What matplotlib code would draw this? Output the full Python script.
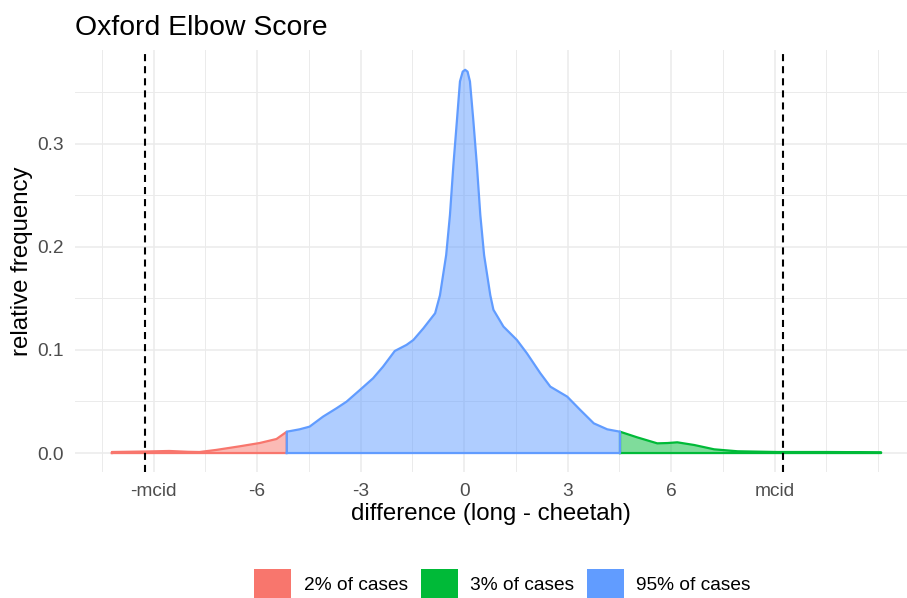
"""
Oxford Elbow Score
Density of the difference (long - cheetah), split into 2% / 95% / 3% regions
"""

import matplotlib
matplotlib.use('Agg')
import matplotlib.pyplot as plt
from matplotlib.patches import Patch

plt.rcParams['font.family'] = ['Liberation Sans', 'DejaVu Sans']

# density, in three pieces that share their cut points
x_red = [-10.21, -9.22, -8.55, -8.0, -7.67, -7.19, -6.51, -5.93, -5.44, -5.14]
y_red = [0.001, 0.0015, 0.002, 0.0012, 0.001, 0.003, 0.0065, 0.0097, 0.0136, 0.0207]

x_blue = [-5.14, -4.77, -4.48, -4.09, -3.70, -3.41, -3.02, -2.64, -2.35, -2.01,
          -1.67, -1.47, -1.18, -0.84, -0.70, -0.52, -0.41, -0.31, -0.21, -0.12,
          -0.04, 0.03, 0.10, 0.17, 0.27, 0.37, 0.47, 0.58, 0.76, 0.85,
          1.14, 1.53, 1.82, 2.21, 2.50, 2.99, 3.37, 3.76, 4.15, 4.52]
y_blue = [0.0207, 0.023, 0.0256, 0.0353, 0.0434, 0.0498, 0.0612, 0.0725, 0.0838, 0.099,
          0.1049, 0.1097, 0.121, 0.1356, 0.153, 0.192, 0.231, 0.2796, 0.3217, 0.3605,
          0.370, 0.3718, 0.370, 0.3605, 0.3217, 0.2796, 0.231, 0.192, 0.153, 0.139,
          0.1227, 0.1097, 0.0968, 0.0774, 0.0644, 0.0547, 0.0417, 0.0288, 0.023, 0.0207]

x_green = [4.52, 5.02, 5.60, 5.90, 6.18, 6.67, 7.25, 7.93, 9.09, 10.54, 12.09]
y_green = [0.0207, 0.0152, 0.0094, 0.0097, 0.0104, 0.0078, 0.0036, 0.0017, 0.001, 0.001, 0.0007]

labels = ['2% of cases', '3% of cases', '95% of cases']
colors = ['#F8766D', '#00BA38', '#619CFF']

mcid = 9.25
xticks = [-9, -6, -3, 0, 3, 6, 9]
xticklabels = ['-mcid', '-6', '-3', '0', '3', '6', 'mcid']
yticks = [0.0, 0.1, 0.2, 0.3]

fig = plt.figure(figsize=(9.07, 5.98), dpi=100)
ax = fig.add_axes([0.0827, 0.2107, 0.9173, 0.7057])

pieces = [(x_red, y_red, colors[0]), (x_green, y_green, colors[1]), (x_blue, y_blue, colors[2])]
for xs, ys, c in pieces:
    px = [xs[0]] + xs + [xs[-1]]
    py = [0] + ys + [0]
    ax.fill(px, py, facecolor=c, alpha=0.5, edgecolor='none', zorder=2)
    ax.plot(px + [px[0]], py + [py[0]], color=c, lw=1.6, zorder=3,
            solid_joinstyle='round')

for v in (-mcid, mcid):
    ax.axvline(v, color='black', lw=1.5, ls=(0, (3.4, 2.4)), zorder=4)

ax.set_xlim(-11.28, 12.84)
ax.set_ylim(-0.0184, 0.391)
ax.set_xticks(xticks)
ax.set_xticklabels(xticklabels)
ax.set_xticks([-10.5, -7.5, -4.5, -1.5, 1.5, 4.5, 7.5, 10.5, 12], minor=True)
ax.set_yticks(yticks)
ax.set_yticklabels(['0.0', '0.1', '0.2', '0.3'])
ax.set_yticks([0.05, 0.15, 0.25, 0.35], minor=True)

ax.grid(which='major', color='#EBEBEB', lw=1.1)
ax.grid(which='minor', color='#EBEBEB', lw=0.7)
ax.set_axisbelow(True)
for s in ax.spines.values():
    s.set_visible(False)
ax.tick_params(which='both', length=0, labelsize=13.8, labelcolor='#4D4D4D')
ax.tick_params(axis='x', pad=8)
ax.tick_params(axis='y', pad=8)

ax.set_xlabel('difference (long - cheetah)', fontsize=17.3, labelpad=2)
ax.set_ylabel('relative frequency', fontsize=17.3, labelpad=3)
ax.set_title('Oxford Elbow Score', loc='left', fontsize=20.4, pad=11)

handles = [Patch(facecolor=c, edgecolor='none', label=l) for c, l in zip(colors, labels)]
fig.legend(handles=handles, loc='center', bbox_to_anchor=(0.554, 0.024), ncol=3,
           frameon=False, fontsize=13.8, handlelength=1.93, handleheight=1.93,
           handletextpad=0.63, columnspacing=0.68, borderpad=0)

fig.savefig('out.png', dpi=100)
plt.close(fig)
